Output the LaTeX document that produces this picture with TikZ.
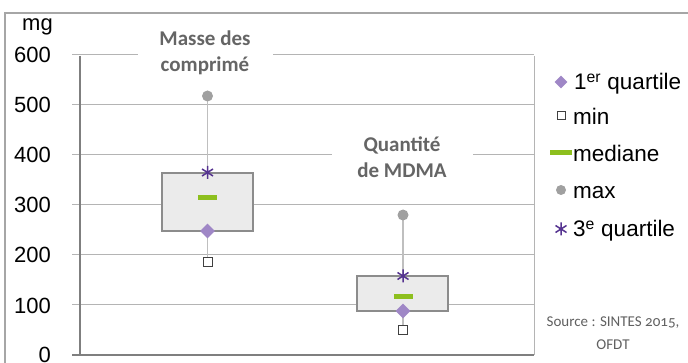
\documentclass[tikz,border=0pt]{standalone}
\usepackage{fontspec}
\setmainfont{Liberation Sans}
\newfontfamily\lblfont{Carlito}
\newfontfamily\srcfont[Numbers=OldStyle]{Carlito}
\usetikzlibrary{shapes.geometric}
\definecolor{frameg}{HTML}{A6A6A6}
\definecolor{gridg}{HTML}{B4B4B4}
\definecolor{axisg}{HTML}{7F7F7F}
\definecolor{boxfill}{HTML}{EBEBEB}
\definecolor{boxline}{HTML}{8C8C8C}
\definecolor{whiskg}{HTML}{BFBFBF}
\definecolor{qonec}{HTML}{9F87C6}
\definecolor{qthreec}{HTML}{553390}
\definecolor{medc}{HTML}{8DBF1E}
\definecolor{maxc}{HTML}{A0A0A0}
\definecolor{minc}{HTML}{404040}
\definecolor{lblc}{HTML}{656565}
\definecolor{srcc}{HTML}{606060}
\tikzset{
  gridln/.style={draw=gridg, line width=1pt},
  axisln/.style={draw=axisg, line width=1.2pt},
  frameln/.style={draw=frameg, line width=1.5pt},
  whisk/.style={draw=whiskg, line width=1.2pt},
  boxst/.style={draw=boxline, fill=boxfill, line width=1.2pt, inner sep=0pt},
  ticklbl/.style={anchor=base east, inner sep=0pt, font=\fontsize{22}{26}\selectfont},
  legtxt/.style={anchor=base west, inner sep=0pt, font=\fontsize{22.5}{27}\selectfont},
  catlbl/.style={fill=white, inner sep=2pt, align=center, text=lblc, font=\lblfont\bfseries\fontsize{21}{26}\selectfont},
  srclbl/.style={align=center, text=srcc, inner sep=0pt, font=\srcfont\fontsize{15}{23}\selectfont},
  qonemark/.style={diamond, fill=qonec, inner sep=0pt, minimum size=15pt},
  minmark/.style={rectangle, draw=minc, fill=white, line width=1pt, inner sep=0pt, minimum size=9pt},
  medmark/.style={rectangle, fill=medc, inner sep=0pt, minimum width=19pt, minimum height=5pt},
  maxmark/.style={circle, fill=maxc, inner sep=0pt, minimum size=11pt},
  qthreemark/.style={rectangle, inner sep=0pt, minimum size=16pt,
    path picture={
      \draw[qthreec, line width=1.5pt]
        ([yshift=6.5pt]path picture bounding box.center) -- ([yshift=-6.5pt]path picture bounding box.center)
        ([shift={(-5.5pt,3.5pt)}]path picture bounding box.center) -- ([shift={(5.5pt,-3.5pt)}]path picture bounding box.center)
        ([shift={(-5.5pt,-3.5pt)}]path picture bounding box.center) -- ([shift={(5.5pt,3.5pt)}]path picture bounding box.center);
    }},
}
\begin{document}
\begin{tikzpicture}[x=1pt,y=-1pt]
\useasboundingbox (0,0) rectangle (688,363);
% outer frame
\coordinate (fbl) at (5,363);
\coordinate (ftl) at (5,13);
\coordinate (ftr) at (688,13);
\draw[frameln] (fbl) -- (ftl) -- (ftr);
% gridlines and ticks
\foreach \v in {100,200,...,600} {
  \draw[gridln] (72,{355-0.5*\v}) -- (534,{355-0.5*\v});
}
\draw[gridln] (534,56) -- (534,355);
\draw[axisln] (72,355) -- (534,355);
\draw[axisln] (80,56) -- (80,355);
% tick labels
\foreach \v in {100,200,...,600} {
  \node[ticklbl] (t\v) at (51,{355-0.5*\v+8}) {\v};
}
\node[ticklbl] (t0) at (51,362) {0};
\node[anchor=base west, inner sep=0pt, font=\fontsize{22}{26}\selectfont] (unit) at (22,31) {mg};
% category labels
\node[catlbl, minimum width=135pt] (lab1) at (205,53) {Masse des\\comprimé};
\node[catlbl, minimum width=141pt] (lab2) at (402,157.5) {Quantité\\de MDMA};
% whiskers
\coordinate (c1max) at (207.5,96);
\coordinate (c1min) at (207.5,262);
\coordinate (c2max) at (403,215);
\coordinate (c2min) at (403,330);
\draw[whisk] (c1max) -- (c1min);
\draw[whisk] (c2max) -- (c2min);
% boxes
\node[boxst, minimum width=91pt, minimum height=58pt] (box1) at (207.5,202) {};
\node[boxst, minimum width=91pt, minimum height=35pt] (box2) at (402.5,293.5) {};
% markers series 1
\node[maxmark] (max1) at (c1max) {};
\node[minmark] (min1) at (c1min) {};
\node[medmark] (med1) at (207.5,198) {};
\node[qonemark] (qa1) at (207.5,231) {};
\node[qthreemark] (qb1) at (207.5,172.5) {};
% markers series 2
\node[maxmark] (max2) at (c2max) {};
\node[minmark] (min2) at (c2min) {};
\node[medmark] (med2) at (403,297) {};
\node[qonemark] (qa2) at (403,311) {};
\node[qthreemark] (qb2) at (403,276) {};
% legend
\node[qonemark, minimum size=13pt] (lgq1) at (561,82) {};
\node[minmark, minimum size=8pt] (lgmin) at (561,116) {};
\node[medmark, minimum width=22pt] (lgmed) at (561,153) {};
\node[maxmark, minimum size=10pt] (lgmax) at (561,190) {};
\node[qthreemark] (lgq3) at (561,229) {};
\node[legtxt] (lt1) at (574,90) {1\textsuperscript{er} quartile};
\node[legtxt] (lt2) at (573,124.5) {min};
\node[legtxt] (lt3) at (573,161.5) {mediane};
\node[legtxt] (lt4) at (573,198.5) {max};
\node[legtxt] (lt5) at (573,237) {3\textsuperscript{e} quartile};
% source
\node[srclbl] (src) at (613,333) {Source : SINTES 2015,\\OFDT};
\end{tikzpicture}
\end{document}
